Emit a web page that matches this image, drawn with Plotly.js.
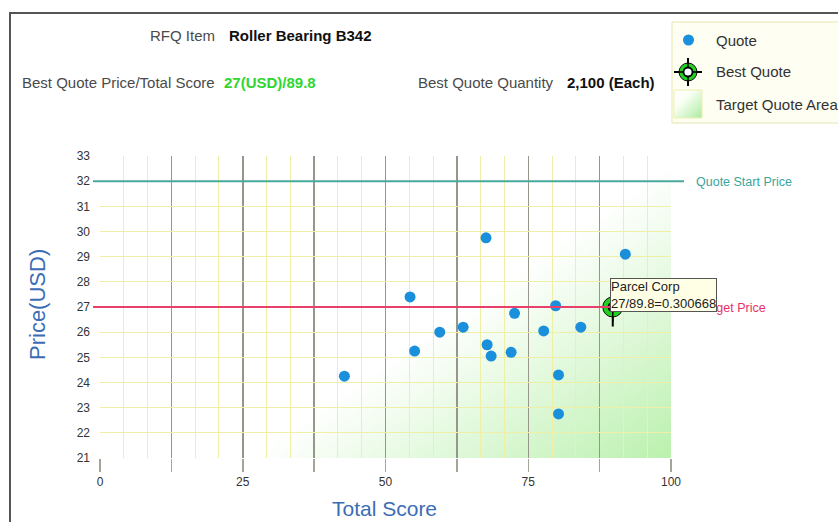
<!DOCTYPE html>
<html>
<head>
<meta charset="utf-8">
<script src="https://cdn.plot.ly/plotly-3.0.1.min.js"></script>
<style>
  html, body { margin: 0; padding: 0; background: #ffffff; }
  #chart { width: 838px; height: 522px; }
</style>
</head>
<body>
<div id="chart"></div>
<script>
// ---------------- data ----------------
const quoteX = [42.8, 54.3, 55.1, 59.5, 63.6, 67.6, 67.8, 68.5, 72.0, 72.6, 77.7, 79.8, 80.3, 80.3, 84.2, 92.0];
const quoteY = [24.25, 27.4, 25.25, 26.0, 26.2, 29.75, 25.5, 25.05, 25.2, 26.75, 26.05, 27.05, 24.3, 22.75, 26.2, 29.1];
const bestX = [89.8];
const bestY = [27];
const bestSupplier = "Parcel Corp";
const bestRatio = "27/89.8=0.300668";
const startPrice = 32;
const targetPrice = 27;
const xTickVals = [0, 12.5, 25, 37.5, 50, 62.5, 75, 87.5, 100];
const xTickText = ["0", "", "25", "", "50", "", "75", "", "100"];
const rfqItem = "Roller Bearing B342";
const bestPriceScore = "27(USD)/89.8";
const bestQuantity = "2,100 (Each)";

// ---------------- geometry helpers ----------------
const W = 838, H = 522, L = 100, R = 671, T = 156, B = 458;
const PX = x => (x - L) / (R - L);
const PY = y => (B - y) / (B - T);

function gradientURL(w, h, gx, gy, stops) {
  const c = document.createElement('canvas');
  c.width = w; c.height = h;
  const ctx = c.getContext('2d');
  const g = ctx.createLinearGradient(0, 0, gx, gy);
  stops.forEach(s => g.addColorStop(s[0], s[1]));
  ctx.fillStyle = g;
  ctx.fillRect(0, 0, w, h);
  return c.toDataURL('image/png');
}
const areaImg = gradientURL(R - L, B - T, 328, 471, [
  [0, 'rgba(175,238,160,0)'],
  [0.58, 'rgba(175,238,160,0)'],
  [1, 'rgba(175,238,160,0.85)']
]);
const legendImg = gradientURL(28, 28, 28, 28, [
  [0, 'rgba(255,255,255,1)'],
  [0.35, 'rgba(250,255,245,1)'],
  [1, 'rgba(170,236,160,1)']
]);

const FONT = '"Liberation Sans", Arial, sans-serif';
const GRAY = '#4a4a4a';

// ---------------- traces ----------------
const traces = [
  {
    type: 'scatter', mode: 'markers', x: quoteX, y: quoteY, name: 'Quote',
    marker: { color: '#1a8fdc', size: 11, line: { width: 0 } },
    hoverinfo: 'skip', cliponaxis: false
  },
  {
    type: 'scatter', mode: 'markers', x: bestX, y: bestY, showlegend: false,
    marker: { symbol: 'cross-thin-open', color: '#000000', size: 28, line: { color: '#000000', width: 2 } },
    hoverinfo: 'skip', cliponaxis: false
  },
  {
    type: 'scatter', mode: 'markers', x: bestX, y: bestY, name: 'Best Quote',
    marker: { symbol: 'circle', color: '#1fd21f', size: 20, line: { color: '#0a0a0a', width: 1 } },
    hoverinfo: 'skip', cliponaxis: false
  },
  {
    type: 'scatter', mode: 'markers', x: bestX, y: bestY, showlegend: false,
    marker: { symbol: 'cross-thin-open', color: '#000000', size: 20, line: { color: '#000000', width: 1.5 } },
    hoverinfo: 'skip', cliponaxis: false
  },
  {
    type: 'scatter', mode: 'markers', x: bestX, y: bestY, showlegend: false,
    marker: { symbol: 'circle', color: '#c00000', size: 9, line: { color: '#000000', width: 1.5 } },
    hoverinfo: 'skip', cliponaxis: false
  }
];

// ---------------- shapes ----------------
const shapes = [
  // outer frame
  { type: 'rect', xref: 'paper', yref: 'paper', x0: PX(10), x1: PX(900), y0: PY(13), y1: PY(600),
    line: { color: '#555555', width: 2 }, fillcolor: 'rgba(0,0,0,0)', layer: 'below' },
  // legend box
  { type: 'rect', xref: 'paper', yref: 'paper', x0: PX(672), x1: PX(900), y0: PY(22), y1: PY(123),
    line: { color: '#e3e8b0', width: 1 }, fillcolor: '#fefef2', layer: 'below' },
  // start price line
  { type: 'line', xref: 'paper', yref: 'y', x0: PX(93), x1: PX(684), y0: startPrice, y1: startPrice,
    line: { color: '#4aa89c', width: 2 } },
  // target price line
  { type: 'line', xref: 'paper', yref: 'y', x0: PX(93), x1: PX(684), y0: targetPrice, y1: targetPrice,
    line: { color: '#e8406a', width: 2 } },
  // legend: quote dot
  { type: 'circle', xref: 'paper', yref: 'paper', x0: PX(683), x1: PX(694), y0: PY(45.5), y1: PY(34.5),
    fillcolor: '#1a8fdc', line: { width: 0 } },
  // legend: best quote symbol
  { type: 'line', xref: 'paper', yref: 'paper', x0: PX(674), x1: PX(702), y0: PY(72), y1: PY(72),
    line: { color: '#000000', width: 2 } },
  { type: 'line', xref: 'paper', yref: 'paper', x0: PX(688), x1: PX(688), y0: PY(58), y1: PY(86),
    line: { color: '#000000', width: 2 } },
  { type: 'circle', xref: 'paper', yref: 'paper', x0: PX(679), x1: PX(697), y0: PY(81), y1: PY(63),
    fillcolor: '#1fd21f', line: { color: '#0a0a0a', width: 1 } },
  { type: 'line', xref: 'paper', yref: 'paper', x0: PX(679), x1: PX(697), y0: PY(72), y1: PY(72),
    line: { color: '#000000', width: 1.5 } },
  { type: 'line', xref: 'paper', yref: 'paper', x0: PX(688), x1: PX(688), y0: PY(63), y1: PY(81),
    line: { color: '#000000', width: 1.5 } },
  { type: 'circle', xref: 'paper', yref: 'paper', x0: PX(683.5), x1: PX(692.5), y0: PY(76.5), y1: PY(67.5),
    fillcolor: '#ffffff', line: { color: '#000000', width: 1.8 } },
  // legend: area swatch border
  { type: 'rect', xref: 'paper', yref: 'paper', x0: PX(674), x1: PX(702), y0: PY(118), y1: PY(90),
    line: { color: '#eef0b0', width: 1 }, fillcolor: 'rgba(0,0,0,0)' }
];

// ---------------- images ----------------
const images = [
  { source: areaImg, xref: 'paper', yref: 'paper', x: 0, y: 1, sizex: 1, sizey: 1,
    xanchor: 'left', yanchor: 'top', sizing: 'stretch', layer: 'below' },
  { source: legendImg, xref: 'paper', yref: 'paper', x: PX(674), y: PY(90), sizex: PX(702) - PX(674), sizey: PY(90) - PY(118),
    xanchor: 'left', yanchor: 'top', sizing: 'stretch', layer: 'above' }
];

// ---------------- annotations ----------------
function txt(text, x, y, anchor, opts) {
  return Object.assign({
    text: text, xref: 'paper', yref: 'paper', x: PX(x), y: PY(y),
    xanchor: anchor, yanchor: 'middle', showarrow: false,
    font: { family: FONT, size: 15, color: GRAY }
  }, opts || {});
}
const annotations = [
  txt('RFQ Item', 217, 35, 'right'),
  txt('<b>' + rfqItem + '</b>', 227, 35, 'left', { font: { family: FONT, size: 15, color: '#111111' } }),
  txt('Best Quote Price/Total Score', 217, 82, 'right'),
  txt('<b>' + bestPriceScore + '</b>', 222, 82, 'left', { font: { family: FONT, size: 15, color: '#2fd62f' } }),
  txt('Best Quote Quantity', 556, 82, 'right'),
  txt('<b>' + bestQuantity + '</b>', 565, 82, 'left', { font: { family: FONT, size: 15, color: '#111111' } }),
  txt('Quote', 714, 40, 'left', { font: { family: FONT, size: 15, color: '#333333' } }),
  txt('Best Quote', 714, 72, 'left', { font: { family: FONT, size: 15, color: '#333333' } }),
  txt('Target Quote Area', 714, 105, 'left', { font: { family: FONT, size: 15, color: '#333333' } }),
  txt('Quote Start Price', 694, 182, 'left', { font: { family: FONT, size: 12.5, color: '#3aa59c' } }),
  txt('Target Price', 697, 308, 'left', { font: { family: FONT, size: 12.5, color: '#e6306a' } }),
  txt('Price(USD)', 37, 305, 'center', { textangle: -90, font: { family: FONT, size: 22, color: '#3b6db5' } }),
  txt('Total Score', 384, 508, 'center', { font: { family: FONT, size: 21, color: '#3b6db5' } }),
  // tooltip
  {
    text: bestSupplier + '<br>' + bestRatio, xref: 'paper', yref: 'paper', x: PX(610), y: PY(278),
    xanchor: 'left', yanchor: 'top', showarrow: false, align: 'left',
    font: { family: FONT, size: 13, color: '#222222' },
    bgcolor: '#ffffe6', bordercolor: '#555555', borderwidth: 1, borderpad: 0
  }
];

// ---------------- layout ----------------
const layout = {
  width: W, height: H,
  margin: { l: L, r: W - R, t: T, b: H - B, pad: 0 },
  paper_bgcolor: '#ffffff',
  plot_bgcolor: 'rgba(0,0,0,0)',
  showlegend: false,
  hovermode: false,
  dragmode: false,
  font: { family: FONT, size: 12, color: '#333333' },
  xaxis: {
    range: [0, 100], tickmode: 'array', tickvals: xTickVals, ticktext: xTickText,
    showgrid: true, gridcolor: '#96968a', gridwidth: 1.5,
    ticks: 'outside', ticklen: 13, tickwidth: 1.5, tickcolor: '#a4a498',
    tickfont: { family: FONT, size: 12, color: '#333333' },
    zeroline: false, showline: false, fixedrange: true,
    minor: { tickmode: 'linear', tick0: 0, dtick: 12.5 / 3, showgrid: true, gridcolor: '#efefa8', gridwidth: 1, ticks: '' }
  },
  yaxis: {
    range: [21, 33], tickmode: 'linear', tick0: 21, dtick: 1,
    showgrid: true, gridcolor: '#efefa8', gridwidth: 1,
    ticks: '', ticklabelstandoff: 9,
    tickfont: { family: FONT, size: 12, color: '#333333' },
    zeroline: false, showline: false, fixedrange: true
  },
  shapes: shapes,
  images: images,
  annotations: annotations
};

Plotly.newPlot('chart', traces, layout, { staticPlot: true, displayModeBar: false });
</script>
</body>
</html>
